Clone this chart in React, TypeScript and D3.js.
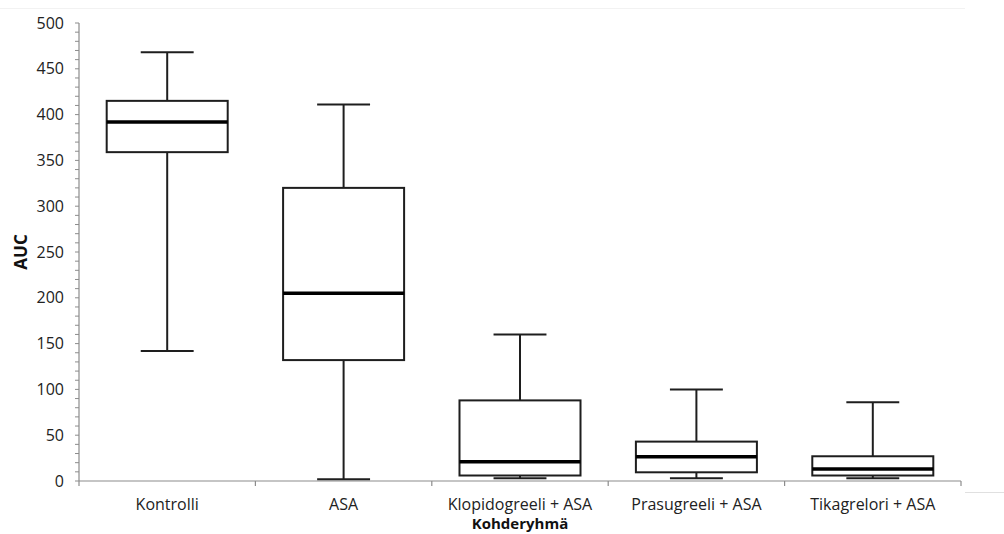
import React from "react";
import * as d3 from "d3";

// box plot stats
const groups = ["Kontrolli", "ASA", "Klopidogreeli + ASA", "Prasugreeli + ASA", "Tikagrelori + ASA"];
const mins = [142, 2, 3, 3, 3];
const q1s = [359, 132, 6, 9.5, 6];
const medians = [392, 205, 21, 26.5, 13];
const q3s = [415, 320, 88, 43, 27];
const maxs = [468, 411, 160, 100, 86];
const yTicks = [0, 50, 100, 150, 200, 250, 300, 350, 400, 450, 500];

const W = 1004;
const H = 534;
const margin = { top: 23, right: 43, bottom: 53, left: 79 };
const font = "'Open Sans', 'Liberation Sans', sans-serif";
const ink = "#1e1e1e";
const axisColor = "#8c8c8c";

export default function App() {
  const x = d3
    .scaleBand<string>()
    .domain(groups)
    .range([margin.left, W - margin.right])
    .paddingInner(0)
    .paddingOuter(0);
  const y = d3.scaleLinear().domain([0, 500]).range([H - margin.bottom, margin.top]);

  const minorTicks = d3.range(0, 501, 10);
  const boxW = x.bandwidth() * 0.686;
  const capW = x.bandwidth() * 0.3;
  const x0 = y(0);

  const data = groups.map((g, i) => ({
    g,
    min: mins[i],
    q1: q1s[i],
    med: medians[i],
    q3: q3s[i],
    max: maxs[i],
  }));

  return (
    <div style={{ position: "absolute", left: 0, top: 0 }}>
      <svg width={W} height={H} style={{ display: "block", background: "#fff" }}>
        {/* faint edges from the original crop */}
        <line x1={0} x2={965} y1={8.5} y2={8.5} stroke="#f2f2f2" />
        <line x1={965} x2={W} y1={492.5} y2={492.5} stroke="#e0e0e0" />

        {/* y axis */}
        <line x1={margin.left} x2={margin.left} y1={y(500)} y2={x0} stroke={axisColor} strokeWidth={1.2} />
        {minorTicks.map((t) => (
          <line key={t} x1={margin.left - 4} x2={margin.left} y1={y(t)} y2={y(t)} stroke={axisColor} strokeWidth={1} />
        ))}
        {yTicks.map((t) => (
          <text
            key={t}
            x={margin.left - 15}
            y={y(t)}
            dy="0.35em"
            textAnchor="end"
            fontFamily={font}
            fontSize={16}
            fill="#222"
          >
            {t}
          </text>
        ))}
        <text
          transform={`translate(27,${(y(0) + y(500)) / 2}) rotate(-90)`}
          textAnchor="middle"
          fontFamily={font}
          fontSize={17}
          fontWeight="bold"
          fill="#111"
        >
          AUC
        </text>

        {/* x axis */}
        <line x1={margin.left} x2={W - margin.right} y1={x0} y2={x0} stroke={axisColor} strokeWidth={1.2} />
        {groups.map((g) => (
          <line key={g} x1={x(g)!} x2={x(g)!} y1={x0} y2={x0 + 5} stroke={axisColor} strokeWidth={1.2} />
        ))}
        <line x1={W - margin.right} x2={W - margin.right} y1={x0} y2={x0 + 5} stroke={axisColor} strokeWidth={1.2} />
        {groups.map((g) => (
          <text
            key={g}
            x={x(g)! + x.bandwidth() / 2}
            y={510}
            textAnchor="middle"
            fontFamily={font}
            fontSize={16}
            fill="#222"
          >
            {g}
          </text>
        ))}
        <text x={(margin.left + W - margin.right) / 2} y={529} textAnchor="middle" fontFamily={font} fontSize={15} fontWeight="bold" fill="#111">
          Kohderyhmä
        </text>

        {/* boxes */}
        {data.map((d) => {
          const cx = x(d.g)! + x.bandwidth() / 2;
          return (
            <g key={d.g} stroke={ink} fill="none">
              <line x1={cx} x2={cx} y1={y(d.max)} y2={y(d.q3)} strokeWidth={2} />
              <line x1={cx} x2={cx} y1={y(d.q1)} y2={y(d.min)} strokeWidth={2} />
              <line x1={cx - capW / 2} x2={cx + capW / 2} y1={y(d.max)} y2={y(d.max)} strokeWidth={2} />
              <line x1={cx - capW / 2} x2={cx + capW / 2} y1={y(d.min)} y2={y(d.min)} strokeWidth={2} />
              <rect x={cx - boxW / 2} y={y(d.q3)} width={boxW} height={y(d.q1) - y(d.q3)} strokeWidth={2} fill="#fff" />
              <line x1={cx - boxW / 2} x2={cx + boxW / 2} y1={y(d.med)} y2={y(d.med)} strokeWidth={3.5} stroke="#000" />
            </g>
          );
        })}
      </svg>
    </div>
  );
}
